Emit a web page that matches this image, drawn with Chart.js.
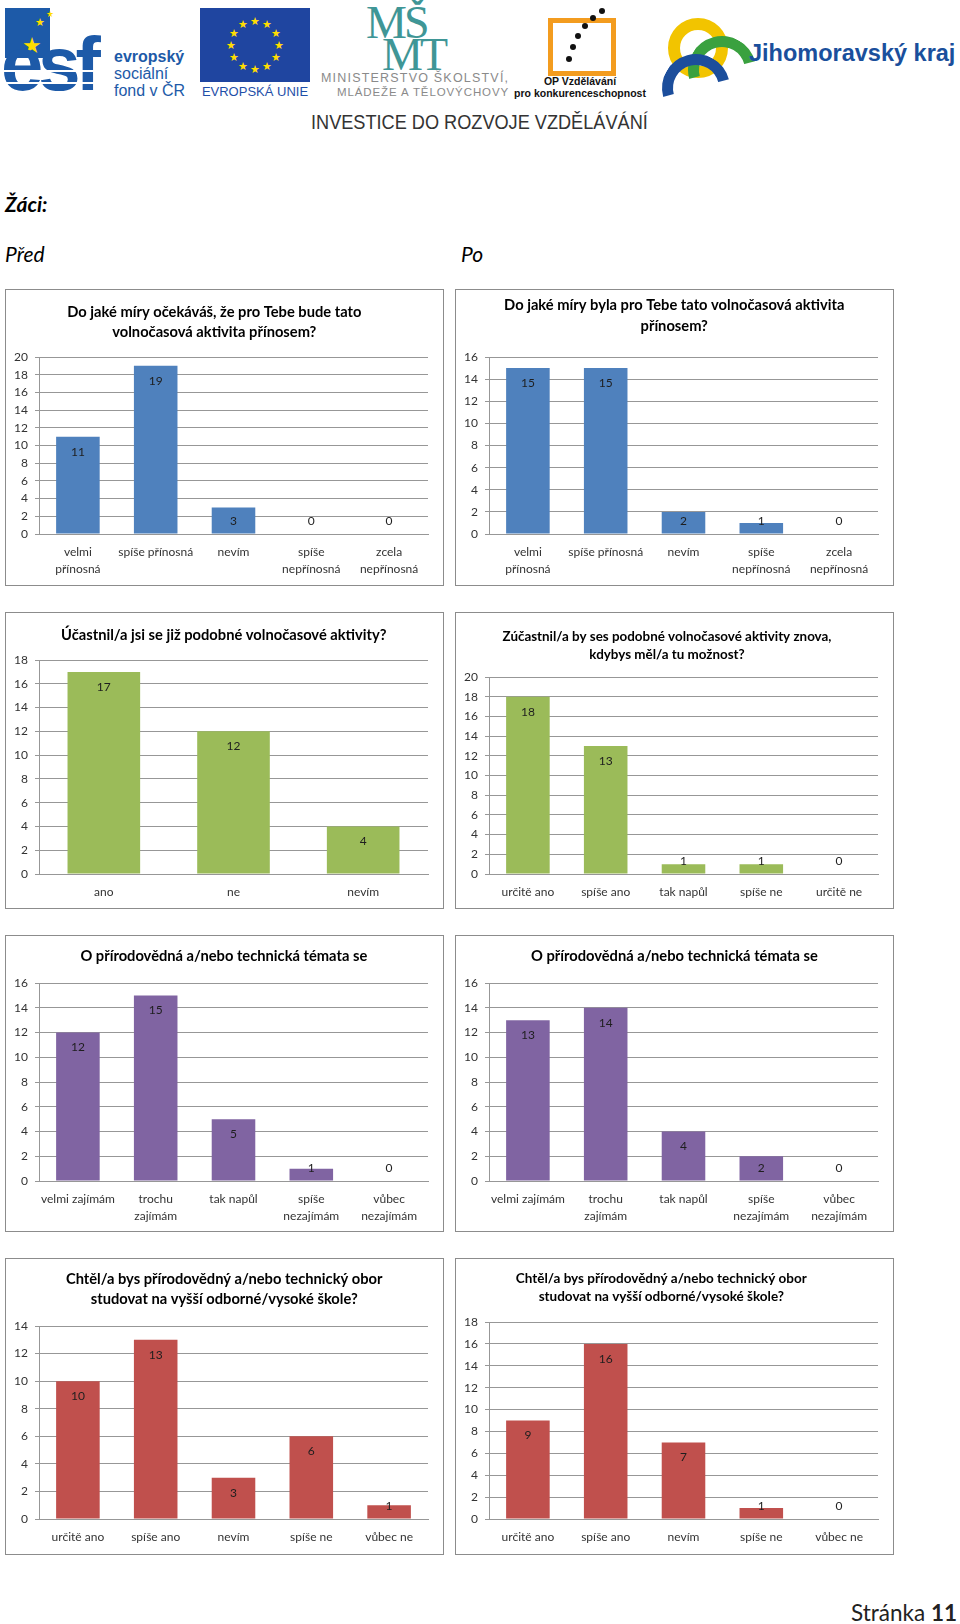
<!DOCTYPE html>
<html lang="cs">
<head>
<meta charset="utf-8">
<title>Žáci – Před / Po</title>
<script src="https://cdn.jsdelivr.net/npm/chart.js@4/dist/chart.umd.min.js"></script>
<style>
    body { margin: 0; width: 960px; height: 1624px; position: relative; background: #fff; overflow: hidden; font-family: Lato, sans-serif; }
    .abs { position: absolute; white-space: nowrap; }
    .box { position: absolute; width: 437px; height: 295px; border: 1px solid #8c8c8c; background: #fff; }
    .box canvas { display: block; }
    .logo { font-family: "Liberation Sans", Arial, sans-serif; }
    .star { position: absolute; color: #ffdd00; font-size: 11px; line-height: 11px; width: 12px; text-align: center; }
    .dot { position: absolute; width: 6px; height: 6px; border-radius: 50%; background: #111; }
</style>
</head>
<body>

<!-- header logos -->
<div class="abs" style="left:5px;top:8px;width:45px;height:50px;background:#1d5aa8;"></div>
<div class="star" style="left:20px;top:34px;font-size:22px;line-height:22px;width:24px;">★</div>
<div class="star" style="left:34px;top:16px;">★</div>
<div class="star" style="left:44px;top:8px;font-size:9px;">★</div>
<div class="abs logo" style="left:1px;top:26px;font-size:76px;line-height:76px;font-weight:bold;color:#1d5aa8;letter-spacing:-5px;">esf</div>
<div class="abs" style="left:4px;top:70px;width:104px;height:2px;background:#fff;"></div>
<div class="abs" style="left:4px;top:82px;width:104px;height:2px;background:#fff;"></div>
<div class="abs logo" style="left:114px;top:48px;font-size:16px;line-height:17px;color:#1d5aa8;">
    <b>evropský</b><br>sociální<br>fond v ČR
</div>

<div id="euFlag" class="abs" style="left:200px;top:8px;width:110px;height:74px;background:#1f45a0;"></div>
<div class="abs logo" style="left:200px;top:84px;width:110px;text-align:center;font-size:13px;line-height:15px;color:#1f4fa8;">EVROPSKÁ UNIE</div>

<div class="abs" style="left:366px;top:4px;font-family:'Liberation Serif',serif;font-size:46px;line-height:38px;color:#3f9696;letter-spacing:-3px;">MŠ</div>
<div class="abs" style="left:382px;top:36px;font-family:'Liberation Serif',serif;font-size:46px;line-height:38px;color:#3f9696;letter-spacing:-3px;">MT</div>
<div class="abs logo" style="left:321px;top:71px;font-size:12.5px;line-height:14px;color:#8a8a8a;letter-spacing:1.2px;">MINISTERSTVO ŠKOLSTVÍ,</div>
<div class="abs logo" style="left:337px;top:85px;font-size:11.5px;line-height:14px;color:#8a8a8a;letter-spacing:0.9px;">MLÁDEŽE A TĚLOVÝCHOVY</div>

<div class="abs" style="left:548px;top:18px;width:58px;height:48px;border:5px solid #f39c1f;"></div>
<div class="dot" style="left:566px;top:56px;"></div>
<div class="dot" style="left:570px;top:44px;"></div>
<div class="dot" style="left:575px;top:33px;"></div>
<div class="dot" style="left:582px;top:23px;"></div>
<div class="dot" style="left:590px;top:15px;"></div>
<div class="dot" style="left:599px;top:8px;"></div>
<div class="abs logo" style="left:510px;top:75px;width:140px;text-align:center;font-size:10.5px;line-height:12px;font-weight:bold;color:#111;">OP Vzdělávání<br>pro konkurenceschopnost</div>

<div class="abs" style="left:668px;top:18px;width:36px;height:36px;border:12px solid #f2c400;border-radius:50%;"></div>
<div class="abs" style="left:688px;top:36px;width:46px;height:46px;border:11px solid transparent;border-top-color:#3aa13f;border-left-color:#3aa13f;border-radius:50%;transform:rotate(30deg);"></div>
<div class="abs" style="left:662px;top:54px;width:46px;height:46px;border:11px solid transparent;border-top-color:#1c4e9c;border-left-color:#1c4e9c;border-radius:50%;transform:rotate(30deg);"></div>
<div class="abs logo" style="left:749px;top:40px;font-size:23.5px;line-height:26px;font-weight:bold;color:#1a4f9c;">Jihomoravský kraj</div>

<div id="investice" class="abs logo" style="left:311px;top:110px;font-size:21px;line-height:24px;color:#333;transform-origin:0 0;">INVESTICE DO ROZVOJE VZDĚLÁVÁNÍ</div>

<!-- page text -->
<div class="abs" style="left:5px;top:192px;font-size:21px;line-height:24px;font-weight:bold;font-style:italic;color:#000;">Žáci:</div>
<div class="abs" style="left:5px;top:242px;font-size:21px;line-height:24px;font-style:italic;color:#000;">Před</div>
<div class="abs" style="left:461px;top:242px;font-size:21px;line-height:24px;font-style:italic;color:#000;">Po</div>
<div class="abs" style="right:3px;top:1599px;font-size:22.5px;line-height:28px;color:#222;">Stránka <b>11</b></div>

<!-- charts -->
<div class="box" style="left:5px;top:289px;"><canvas id="chartA" width="437" height="295"></canvas></div>
<div class="box" style="left:455px;top:289px;"><canvas id="chartB" width="437" height="295"></canvas></div>
<div class="box" style="left:5px;top:612px;"><canvas id="chartC" width="437" height="295"></canvas></div>
<div class="box" style="left:455px;top:612px;"><canvas id="chartD" width="437" height="295"></canvas></div>
<div class="box" style="left:5px;top:935px;"><canvas id="chartE" width="437" height="295"></canvas></div>
<div class="box" style="left:455px;top:935px;"><canvas id="chartF" width="437" height="295"></canvas></div>
<div class="box" style="left:5px;top:1258px;"><canvas id="chartG" width="437" height="295"></canvas></div>
<div class="box" style="left:455px;top:1258px;"><canvas id="chartH" width="437" height="295"></canvas></div>

<script>
// Survey answers (number of pupils)
const labelsPrinos = [["velmi", "přínosná"], "spíše přínosná", "nevím", ["spíše", "nepřínosná"], ["zcela", "nepřínosná"]];
const prinosPred = [11, 19, 3, 0, 0];
const prinosPo = [15, 15, 2, 1, 0];

const labelsUcast = ["ano", "ne", "nevím"];
const ucastPred = [17, 12, 4];

const labelsZnova = ["určitě ano", "spíše ano", "tak napůl", "spíše ne", "určitě ne"];
const znovaPo = [18, 13, 1, 1, 0];

const labelsZajem = ["velmi zajímám", ["trochu", "zajímám"], "tak napůl", ["spíše", "nezajímám"], ["vůbec", "nezajímám"]];
const zajemPred = [12, 15, 5, 1, 0];
const zajemPo = [13, 14, 4, 2, 0];

const labelsObor = ["určitě ano", "spíše ano", "nevím", "spíše ne", "vůbec ne"];
const oborPred = [10, 13, 3, 6, 1];
const oborPo = [9, 16, 7, 1, 0];

// Y axis maximum of each chart (ticks every 2)
const yMaxPrinos = [20, 16];
const yMaxUcast = [18, 20];
const yMaxZajem = [16, 16];
const yMaxObor = [14, 18];

const gridColor = "#979797";
const tickColor = "#333";

// EU flag stars
const flag = document.getElementById("euFlag");
for (let i = 0; i < 12; i++) {
    const a = i * Math.PI / 6;
    const s = document.createElement("div");
    s.className = "star";
    s.textContent = "★";
    s.style.left = (49 + 24 * Math.sin(a)) + "px";
    s.style.top = (31 - 24 * Math.cos(a)) + "px";
    flag.appendChild(s);
}

// squeeze the "investice" line to its width in the picture
const inv = document.getElementById("investice");
inv.style.transform = "scaleX(" + (337 / inv.offsetWidth) + ")";

// value labels drawn at the inner end of each bar
const valueLabels = {
    id: "valueLabels",
    afterDatasetsDraw(chart) {
        const ctx = chart.ctx;
        const meta = chart.getDatasetMeta(0);
        const base = chart.scales.y.getPixelForValue(0);
        ctx.save();
        ctx.font = "12px Lato";
        ctx.fillStyle = "#1e1e1e";
        ctx.textAlign = "center";
        ctx.textBaseline = "middle";
        meta.data.forEach((bar, i) => {
            const v = chart.data.datasets[0].data[i];
            ctx.fillText(v, bar.x, Math.min(bar.y + 15, base - 13));
        });
        ctx.restore();
    }
};

// Excel does not centre the title exactly, nudge it sideways
const titleShift = {
    id: "titleShift",
    afterLayout(chart, args, opts) {
        const t = chart.titleBlock;
        if (t && opts.dx) {
            t.left += opts.dx;
            t.right += opts.dx;
        }
    }
};

function drawBarChart(id, labels, values, color, title, yMax, frame) {
    const ctx = document.getElementById(id).getContext("2d");
    return new Chart(ctx, {
        type: "bar",
        data: {
            labels: labels,
            datasets: [{
                data: values,
                backgroundColor: color,
                barPercentage: 0.56,
                categoryPercentage: 1
            }]
        },
        options: {
            responsive: false,
            animation: false,
            layout: { padding: { left: 0, right: 15, top: 0, bottom: 0 } },
            scales: {
                x: {
                    grid: { display: false, drawTicks: false },
                    border: { color: gridColor },
                    ticks: {
                        color: tickColor,
                        font: { family: "Lato", size: 12, lineHeight: "17px" },
                        padding: 10,
                        maxRotation: 0,
                        autoSkip: false
                    },
                    afterFit: s => { s.height = frame.axisH; }
                },
                y: {
                    min: 0,
                    max: yMax,
                    ticks: {
                        stepSize: 2,
                        color: tickColor,
                        font: { family: "Lato", size: 12 },
                        padding: 7
                    },
                    grid: { color: gridColor, tickLength: 4 },
                    border: { color: gridColor },
                    afterFit: s => { s.width = 33; }
                }
            },
            plugins: {
                legend: { display: false },
                tooltip: { enabled: false },
                titleShift: { dx: frame.dx },
                title: {
                    display: true,
                    text: title,
                    color: "#000",
                    font: { family: "Lato", size: frame.titleSize || 14.7, weight: "bold", lineHeight: frame.lineH + "px" },
                    padding: { top: frame.padTop, bottom: frame.padBottom }
                }
            }
        },
        plugins: [valueLabels, titleShift]
    });
}

const blue = "#4f81bd", green = "#9bbb59", purple = "#8064a2", red = "#c0504d";

drawBarChart("chartA", labelsPrinos, prinosPred, blue,
    ["Do jaké míry očekáváš, že pro Tebe bude tato", "volnočasová aktivita přínosem?"], yMaxPrinos[0],
    { axisH: 51, lineH: 20, padTop: 12, padBottom: 15, dx: -2.7 });
drawBarChart("chartB", labelsPrinos, prinosPo, blue,
    ["Do jaké míry byla pro Tebe tato volnočasová aktivita", "přínosem?"], yMaxPrinos[1],
    { axisH: 51, lineH: 21, padTop: 5, padBottom: 20, dx: 7.2 });
drawBarChart("chartC", labelsUcast, ucastPred, green,
    "Účastnil/a jsi se již podobné volnočasové aktivity?", yMaxUcast[0],
    { axisH: 34, lineH: 20, padTop: 12, padBottom: 15, dx: 6.8 });
drawBarChart("chartD", labelsZnova, znovaPo, green,
    ["Zúčastnil/a by ses podobné volnočasové aktivity znova,", "kdybys měl/a tu možnost?"], yMaxUcast[1],
    { axisH: 34, lineH: 18, padTop: 15, padBottom: 13, dx: 0, titleSize: 13.4 });
drawBarChart("chartE", labelsZajem, zajemPred, purple,
    "O přírodovědná a/nebo technická témata se", yMaxZajem[0],
    { axisH: 50, lineH: 20, padTop: 10.7, padBottom: 16.3, dx: 6.8 });
drawBarChart("chartF", labelsZajem, zajemPo, purple,
    "O přírodovědná a/nebo technická témata se", yMaxZajem[1],
    { axisH: 50, lineH: 20, padTop: 10.7, padBottom: 16.3, dx: 7.4 });
drawBarChart("chartG", labelsObor, oborPred, red,
    ["Chtěl/a bys přírodovědný a/nebo technický obor", "studovat na vyšší odborné/vysoké škole?"], yMaxObor[0],
    { axisH: 35, lineH: 20, padTop: 10.3, padBottom: 16.7, dx: 7.2 });
drawBarChart("chartH", labelsObor, oborPo, red,
    ["Chtěl/a bys přírodovědný a/nebo technický obor", "studovat na vyšší odborné/vysoké škole?"], yMaxObor[1],
    { axisH: 35, lineH: 18.4, padTop: 10.1, padBottom: 16.1, dx: -5.7, titleSize: 13.5 });
</script>
</body>
</html>
